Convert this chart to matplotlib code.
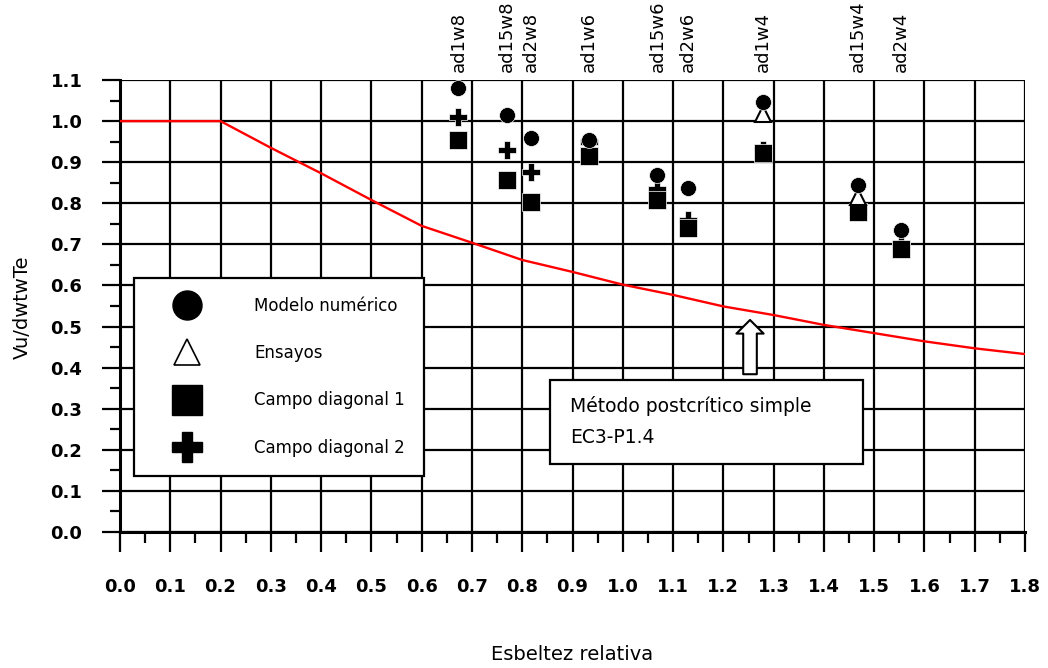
import matplotlib
import numpy as np

matplotlib.use("Agg")
import matplotlib.pyplot as plt
from matplotlib.lines import Line2D
from matplotlib.patches import Rectangle

# specimen labels and slenderness
specimens = ["ad1w8", "ad15w8", "ad2w8", "ad1w6", "ad15w6", "ad2w6", "ad1w4", "ad15w4", "ad2w4"]
slenderness = [0.673, 0.770, 0.817, 0.933, 1.069, 1.130, 1.279, 1.467, 1.554]

# normalised ultimate shear Vu/dwtwTe
numerical = [1.080, 1.015, 0.958, 0.954, 0.868, 0.836, 1.047, 0.844, 0.735]
tests = [np.nan, np.nan, np.nan, np.nan, np.nan, np.nan, 1.017, 0.816, np.nan]
diagonal1 = [0.954, 0.856, 0.804, 0.916, 0.808, 0.741, 0.923, 0.779, 0.688]
diagonal2 = [1.010, 0.929, 0.877, 0.950, 0.834, 0.759, 0.930, 0.782, 0.695]

# EC3 simple post-critical curve
ec3_lambda = [0.0, 0.2, 0.3, 0.4, 0.5, 0.6, 0.7, 0.8, 0.9, 1.0, 1.1, 1.2, 1.3, 1.4, 1.5, 1.6, 1.7, 1.8]
ec3_ratio = [1.0, 1.0, 0.935, 0.873, 0.808, 0.745, 0.704, 0.662, 0.633, 0.602,
             0.577, 0.549, 0.528, 0.504, 0.484, 0.464, 0.447, 0.433]

x_ticks = np.round(np.arange(0, 1.81, 0.1), 1)
y_ticks = np.round(np.arange(0, 1.11, 0.1), 1)

fig = plt.figure(figsize=(10.48, 6.68), dpi=100)
ax = fig.add_axes([0.1145, 0.2036, 0.8636, 0.6766])

ax.set_xlim(0, 1.8)
ax.set_ylim(0, 1.1)
ax.set_xticks(x_ticks)
ax.set_xticklabels([f"{v:.1f}" for v in x_ticks])
ax.set_yticks(y_ticks)
ax.set_yticklabels([f"{v:.1f}" for v in y_ticks])
ax.set_xticks(np.arange(0.05, 1.8, 0.1), minor=True)
ax.set_yticks(np.arange(0.05, 1.1, 0.1), minor=True)

ax.grid(True, which="major", color="black", linewidth=1.6)
ax.set_axisbelow(True)
for side in ["top", "right"]:
    ax.spines[side].set_visible(False)
for side in ["left", "bottom"]:
    ax.spines[side].set_linewidth(2.2)

ax.tick_params(axis="x", which="major", length=14.4, width=1.6, pad=19)
ax.tick_params(axis="x", which="minor", length=8, width=1.6)
ax.tick_params(axis="y", which="major", length=13, width=1.6, pad=14)
ax.tick_params(axis="y", which="minor", length=7, width=1.6)
for lab in ax.get_xticklabels() + ax.get_yticklabels():
    lab.set_fontweight("bold")
    lab.set_fontsize(13)

ax.plot(ec3_lambda, ec3_ratio, color="red", linewidth=1.7, zorder=3)

ax.plot(slenderness, diagonal2, linestyle="none", marker="P", markersize=13.5,
        color="black", markeredgecolor="white", markeredgewidth=0.5, zorder=4)
ax.plot(slenderness, diagonal1, linestyle="none", marker="s", markersize=13,
        color="black", markeredgecolor="white", markeredgewidth=0.5, zorder=5)
ax.plot(slenderness, tests, linestyle="none", marker="^", markersize=12,
        markerfacecolor="white", markeredgecolor="black", markeredgewidth=1.5, zorder=6)
ax.plot(slenderness, numerical, linestyle="none", marker="o", markersize=11.5,
        color="black", markeredgecolor="white", markeredgewidth=0.5, zorder=7)

for name, lam in zip(specimens, slenderness):
    ax.annotate(name, xy=(lam, 1.0), xycoords=("data", "axes fraction"),
                xytext=(0, 6), textcoords="offset points",
                rotation=90, ha="center", va="bottom", fontsize=13)

handles = [
    Line2D([], [], linestyle="none", marker="o", markersize=11, color="black"),
    Line2D([], [], linestyle="none", marker="^", markersize=10, markerfacecolor="white",
           markeredgecolor="black", markeredgewidth=1.2),
    Line2D([], [], linestyle="none", marker="s", markersize=11, color="black"),
    Line2D([], [], linestyle="none", marker="P", markersize=11, color="black"),
]
leg = ax.legend(handles, ["Modelo numérico", "Ensayos", "Campo diagonal 1", "Campo diagonal 2"],
                loc="upper left", bbox_to_anchor=(0.0155, 0.562), borderaxespad=0,
                fontsize=12, markerscale=1.9, frameon=True, fancybox=False,
                edgecolor="black", framealpha=1, borderpad=1.15, handlelength=4,
                handletextpad=2.05, labelspacing=1.75)
leg.get_frame().set_linewidth(1.6)
leg.set_zorder(10)

ax.add_patch(Rectangle((0.475, 0.150), 0.346, 0.186, transform=ax.transAxes,
                       facecolor="white", edgecolor="black", linewidth=1.6, zorder=10))
ax.text(0.497, 0.279, "Método postcrítico simple", transform=ax.transAxes,
        fontsize=13.5, va="center", ha="left", zorder=11)
ax.text(0.497, 0.210, "EC3-P1.4", transform=ax.transAxes,
        fontsize=13.5, va="center", ha="left", zorder=11)

ax.annotate("", xy=(1.253, 0.516), xytext=(1.253, 0.384),
            arrowprops=dict(arrowstyle="simple,head_length=0.7,head_width=1.4,tail_width=0.7",
                            mutation_scale=14, fc="white", ec="black", lw=1.5,
                            shrinkA=0, shrinkB=0), zorder=9)

fig.text(572 / 1048, 1 - 655 / 668, "Esbeltez relativa", ha="center", va="center", fontsize=14)
fig.text(22 / 1048, 1 - 307 / 668, "Vu/dwtwTe", ha="center", va="center",
         rotation=90, fontsize=14)

fig.savefig("out.png", dpi=100)
plt.close(fig)
